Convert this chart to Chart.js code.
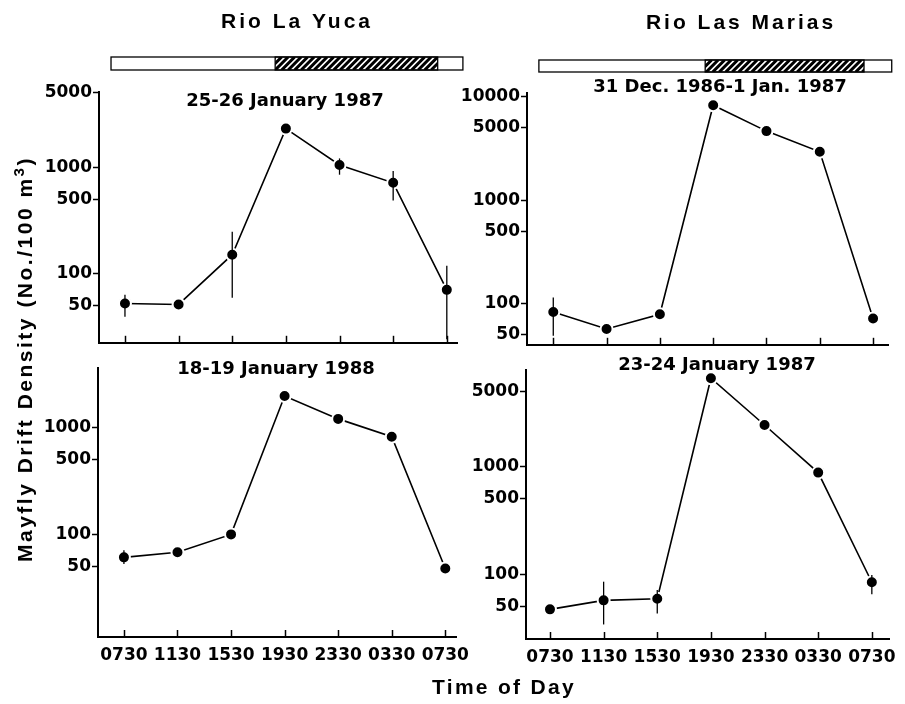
<!DOCTYPE html>
<html>
<head>
<meta charset="utf-8">
<script src="https://cdn.jsdelivr.net/npm/chart.js@4.4.1/dist/chart.umd.min.js"></script>
<style>
  body { margin: 0; background: #fff; width: 905px; height: 704px; position: relative; overflow: hidden; }
  canvas { position: absolute; }
  .lab { position: absolute; font: bold 21px "Liberation Sans", Arial, sans-serif; color: #000; white-space: nowrap; text-align: center; line-height: 24px; }
  #ylab { left: -185px; top: 347px; width: 420px; transform: rotate(-90deg); letter-spacing: 2.5px; }
  #xlab { left: 404px; top: 675px; width: 200px; letter-spacing: 2.3px; }
  sup { font-size: 0.72em; line-height: 0; vertical-align: 0.55em; }
</style>
</head>
<body>
<canvas id="yucaTop"></canvas>
<canvas id="mariasTop"></canvas>
<canvas id="yucaBottom"></canvas>
<canvas id="mariasBottom"></canvas>
<div class="lab" id="ylab">Mayfly Drift Density (No./100 m<sup>3</sup>)</div>
<div class="lab" id="xlab">Time of Day</div>
<script>
// sampling times (x index 0..6)
const timeLabels = ['0730', '1130', '1530', '1930', '2330', '0330', '0730'];

// Rio La Yuca, 25-26 January 1987
const yuca87 = [52, 51, 150, 2310, 1050, 713, 70];
const yuca87Lo = [39, null, 59, null, 850, 487, 24];
const yuca87Hi = [63, null, 247, null, 1210, 922, 118];

// Rio Las Marias, 31 Dec. 1986 - 1 Jan. 1987
const marias86 = [83, 57, 79, 8250, 4640, 2930, 72];
const marias86Lo = [49, null, null, null, null, null, null];
const marias86Hi = [115, null, null, null, null, null, null];

// Rio La Yuca, 18-19 January 1988
const yuca88 = [61, 68, 100, 1960, 1200, 817, 48];
const yuca88Lo = [53, null, null, null, null, null, null];
const yuca88Hi = [71, null, null, null, null, null, null];

// Rio Las Marias, 23-24 January 1987
const marias87 = [47, 57, 59, 6640, 2440, 880, 84];
const marias87Lo = [null, 34, 43, null, null, null, 65];
const marias87Hi = [null, 85, 71, null, null, null, 98];

// y tick labels
const ticksYuca87 = [50, 100, 500, 1000, 5000];
const ticksMarias86 = [50, 100, 500, 1000, 5000, 10000];
const ticksYuca88 = [50, 100, 500, 1000];
const ticksMarias87 = [50, 100, 500, 1000, 5000];

// day/night bar (in x index units), hatched = dark
const yucaDay = [-0.26, 6.3];
const yucaNight = [2.8, 5.83];
const mariasDay = [-0.27, 6.35];
const mariasNight = [2.85, 5.83];

const tickFont = {family: 'DejaVu Sans', weight: 'bold', size: 17};

const errBars = {
  id: 'errbars',
  afterDatasetsDraw(chart, args, o) {
    const xs = chart.scales.x, ys = chart.scales.y, ctx = chart.ctx;
    ctx.save();
    ctx.strokeStyle = '#000';
    ctx.lineWidth = 1.3;
    o.lo.forEach((lo, i) => {
      if (lo == null) return;
      const x = xs.getPixelForValue(i);
      ctx.beginPath();
      ctx.moveTo(x, ys.getPixelForValue(lo));
      ctx.lineTo(x, ys.getPixelForValue(o.hi[i]));
      ctx.stroke();
    });
    ctx.restore();
  }
};

// x ticks point into the plot
const inTicks = {
  id: 'inticks',
  afterDraw(chart) {
    const xs = chart.scales.x, ctx = chart.ctx, b = chart.chartArea.bottom;
    ctx.save();
    ctx.strokeStyle = '#000';
    ctx.lineWidth = 1.5;
    xs.ticks.forEach(t => {
      const x = Math.round(xs.getPixelForValue(t.value)) + 0.5;
      ctx.beginPath();
      ctx.moveTo(x, b);
      ctx.lineTo(x, b - 7);
      ctx.stroke();
    });
    ctx.restore();
  }
};

const decor = {
  id: 'decor',
  afterDraw(chart, args, o) {
    const ctx = chart.ctx;
    ctx.save();
    ctx.fillStyle = '#000';
    ctx.textAlign = 'center';
    ctx.textBaseline = 'middle';
    if (o.river) {
      ctx.font = 'bold 21px "Liberation Sans"';
      ctx.letterSpacing = '3px';
      ctx.fillText(o.river, o.riverX, o.riverY);
      ctx.letterSpacing = '0px';
      const xs = chart.scales.x;
      const a = xs.getPixelForValue(o.day[0]), b = xs.getPixelForValue(o.day[1]);
      const c = xs.getPixelForValue(o.night[0]), d = xs.getPixelForValue(o.night[1]);
      const y0 = o.barY, h = o.barH;
      ctx.save();
      ctx.beginPath();
      ctx.rect(c, y0, d - c, h);
      ctx.clip();
      ctx.strokeStyle = '#000';
      ctx.lineWidth = 3;
      ctx.beginPath();
      for (let x = c - h; x < d + h; x += 6.5) {
        ctx.moveTo(x, y0 + h);
        ctx.lineTo(x + h, y0);
      }
      ctx.stroke();
      ctx.restore();
      ctx.strokeStyle = '#000';
      ctx.lineWidth = 1.3;
      ctx.strokeRect(a, y0, b - a, h);
      ctx.strokeRect(c, y0, d - c, h);
    }
    ctx.font = 'bold 18px "DejaVu Sans"';
    ctx.fillText(o.sub, o.subX, o.subY);
    ctx.restore();
  }
};

function panel(id, box, o) {
  const cv = document.getElementById(id);
  cv.width = box.w;
  cv.height = box.h;
  cv.style.left = box.x + 'px';
  cv.style.top = box.y + 'px';
  return new Chart(cv, {
    type: 'line',
    data: {
      datasets: [{
        data: o.values.map((v, i) => ({x: i, y: v})),
        borderColor: '#000',
        borderWidth: 1.6,
        tension: 0,
        fill: false,
        pointRadius: 6,
        pointBackgroundColor: '#000',
        pointBorderColor: '#fff',
        pointBorderWidth: 2
      }]
    },
    options: {
      responsive: false,
      animation: false,
      events: [],
      layout: {padding: {left: 0, top: box.padTop, right: box.padRight, bottom: 4}},
      plugins: {
        legend: {display: false},
        tooltip: {enabled: false},
        errbars: {lo: o.lo, hi: o.hi},
        decor: o.decor
      },
      scales: {
        x: {
          type: 'linear',
          min: o.xmin,
          max: o.xmax,
          afterBuildTicks: s => { s.ticks = timeLabels.map((_, i) => ({value: i})); },
          afterFit: s => { s.height = o.showX ? 40 : 2; },
          grid: {display: false, drawTicks: false},
          border: {display: true, color: '#000', width: 2},
          ticks: {
            display: o.showX, autoSkip: false, maxRotation: 0, padding: 8,
            color: '#000', font: tickFont,
            callback: v => timeLabels[v]
          }
        },
        y: {
          type: 'logarithmic',
          min: o.ymin,
          max: o.ymax,
          afterBuildTicks: s => { s.ticks = o.yticks.map(v => ({value: v})); },
          afterFit: s => { s.width = 75; },
          grid: {drawOnChartArea: false, drawTicks: true, tickLength: 6, tickWidth: 1.5, tickColor: '#000'},
          border: {display: true, color: '#000', width: 2},
          ticks: {autoSkip: false, padding: 1, color: '#000', font: tickFont, callback: v => String(v)}
        }
      }
    },
    plugins: [errBars, inTicks, decor]
  });
}

panel('yucaTop', {x: 24, y: 0, w: 463, h: 354, padTop: 92, padRight: 30}, {
  values: yuca87, lo: yuca87Lo, hi: yuca87Hi, yticks: ticksYuca87,
  xmin: -0.484, xmax: 6.19, ymin: 22.2, ymax: 5108, showX: false,
  decor: {river: 'Rio La Yuca', riverX: 273, riverY: 22, day: yucaDay, night: yucaNight, barY: 57, barH: 13,
          sub: '25-26 January 1987', subX: 261, subY: 101}
});

panel('mariasTop', {x: 452, y: 0, w: 453, h: 356, padTop: 93, padRight: 17}, {
  values: marias86, lo: marias86Lo, hi: marias86Hi, yticks: ticksMarias86,
  xmin: -0.493, xmax: 6.28, ymin: 40.1, ymax: 10825, showX: false,
  decor: {river: 'Rio Las Marias', riverX: 289, riverY: 23, day: mariasDay, night: mariasNight, barY: 60, barH: 12,
          sub: '31 Dec. 1986-1 Jan. 1987', subX: 268, subY: 87}
});

panel('yucaBottom', {x: 23, y: 355, w: 463, h: 326, padTop: 13, padRight: 30}, {
  values: yuca88, lo: yuca88Lo, hi: yuca88Hi, yticks: ticksYuca88,
  xmin: -0.484, xmax: 6.2, ymin: 11.0, ymax: 3585, showX: true,
  decor: {sub: '18-19 January 1988', subX: 253, subY: 14}
});

panel('mariasBottom', {x: 451, y: 355, w: 454, h: 328, padTop: 15, padRight: 16}, {
  values: marias87, lo: marias87Lo, hi: marias87Hi, yticks: ticksMarias87,
  xmin: -0.447, xmax: 6.32, ymin: 24.9, ymax: 7926, showX: true,
  decor: {sub: '23-24 January 1987', subX: 266, subY: 10}
});
</script>
</body>
</html>
